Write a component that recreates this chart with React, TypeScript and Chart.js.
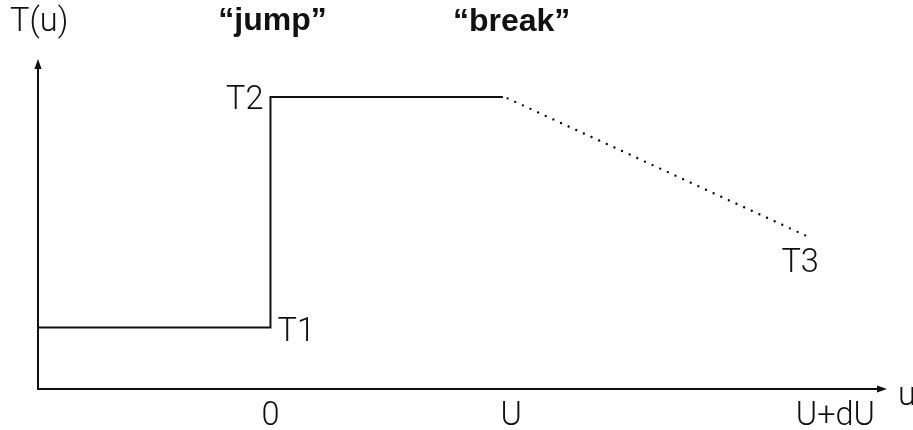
import React, { useEffect, useRef } from "react";
import { Chart, registerables } from "chart.js";

Chart.register(...registerables);

// Step curve T(u): T1 before the jump, T2 after it until the break
const stepU = [-1, 0, 0, 1];
const stepT = [1, 1, 4.75, 4.75];

// Dotted continuation after the break, down to T3
const breakU = [1.02, 2.3];
const breakT = [4.73, 2.5];

// Axis range
const uRange = [-1, 2.652];
const tRange = [0, 5.37];

// x tick labels and their u values
const uTickValues = [0, 1.035, 2.43];
const uTickLabels = ["0", "U", "U+dU"];

// Level labels
const levelLabels = ["T1", "T2", "T3"];
const headerLabels = ["\u201cjump\u201d", "\u201cbreak\u201d"];
const axisTitles = ["T(u)", "u"];

const INK = "#111111";
const FONT = "300 32.5px Roboto, 'Liberation Sans', Arial, sans-serif";
const BOLD = "bold 32px 'Liberation Sans', Arial, sans-serif";

const overlay = {
  id: "overlay",
  afterDraw(chart: any) {
    const { ctx, chartArea, scales } = chart;
    const xs = scales.x;
    const ys = scales.y;
    const L = chartArea.left;
    const R = chartArea.right;
    const T = chartArea.top;
    const B = chartArea.bottom;
    ctx.save();
    ctx.strokeStyle = INK;
    ctx.fillStyle = INK;
    ctx.lineWidth = 2;
    // y axis
    ctx.beginPath();
    ctx.moveTo(L, B + 1);
    ctx.lineTo(L, T + 9);
    ctx.stroke();
    ctx.beginPath();
    ctx.moveTo(L, T);
    ctx.lineTo(L - 3.6, T + 10);
    ctx.lineTo(L + 3.6, T + 10);
    ctx.closePath();
    ctx.fill();
    // x axis
    ctx.beginPath();
    ctx.moveTo(L - 1, B);
    ctx.lineTo(R - 9, B);
    ctx.stroke();
    ctx.beginPath();
    ctx.moveTo(R, B);
    ctx.lineTo(R - 10, B - 3.6);
    ctx.lineTo(R - 10, B + 3.6);
    ctx.closePath();
    ctx.fill();

    // x tick labels
    ctx.font = FONT;
    ctx.textBaseline = "alphabetic";
    ctx.textAlign = "center";
    uTickValues.forEach((v, i) => {
      ctx.fillText(uTickLabels[i], xs.getPixelForValue(v), B + 36);
    });

    // axis titles
    ctx.textAlign = "left";
    ctx.fillText(axisTitles[0], L - 28, 31);
    ctx.fillText(axisTitles[1], R + 11, B + 16);

    // level labels
    const x0 = xs.getPixelForValue(stepU[1]);
    ctx.textAlign = "left";
    ctx.fillText(levelLabels[0], x0 + 7, ys.getPixelForValue(stepT[0]) + 13);
    ctx.textAlign = "right";
    ctx.fillText(levelLabels[1], x0 - 7, ys.getPixelForValue(stepT[2]) + 12);
    ctx.textAlign = "center";
    ctx.fillText(
      levelLabels[2],
      xs.getPixelForValue(breakU[1]) - 5,
      ys.getPixelForValue(breakT[1]) + 37
    );

    // header labels
    ctx.font = BOLD;
    ctx.textAlign = "center";
    ctx.fillText(headerLabels[0], x0 + 2, 30);
    ctx.fillText(headerLabels[1], xs.getPixelForValue(breakU[0]) + 4, 31);
    ctx.restore();
  },
};

export default function App() {
  const ref = useRef<HTMLCanvasElement | null>(null);
  useEffect(() => {
    if (!ref.current) return;
    const chart = new Chart(ref.current, {
      type: "scatter",
      data: {
        datasets: [
          {
            data: stepU.map((u, i) => ({ x: u, y: stepT[i] })),
            showLine: true,
            borderColor: INK,
            borderWidth: 2,
            pointRadius: 0,
            fill: false,
            tension: 0,
          },
          {
            data: breakU.map((u, i) => ({ x: u, y: breakT[i] })),
            showLine: true,
            borderColor: INK,
            borderWidth: 2.4,
            borderDash: [0, 8.4],
            borderCapStyle: "round",
            pointRadius: 0,
            fill: false,
            tension: 0,
          },
        ],
      },
      options: {
        responsive: false,
        animation: false,
        layout: { padding: { left: 38, right: 26, top: 59, bottom: 41 } },
        plugins: {
          legend: { display: false },
          tooltip: { enabled: false },
        },
        scales: {
          x: { type: "linear", display: false, min: uRange[0], max: uRange[1] },
          y: { type: "linear", display: false, min: tRange[0], max: tRange[1] },
        },
      },
      plugins: [overlay],
    } as any);
    return () => chart.destroy();
  }, []);
  return (
    <div style={{ position: "absolute", left: 0, top: 0, width: 913, height: 430, background: "#fff" }}>
      <canvas ref={ref} width={913} height={430} />
    </div>
  );
}
